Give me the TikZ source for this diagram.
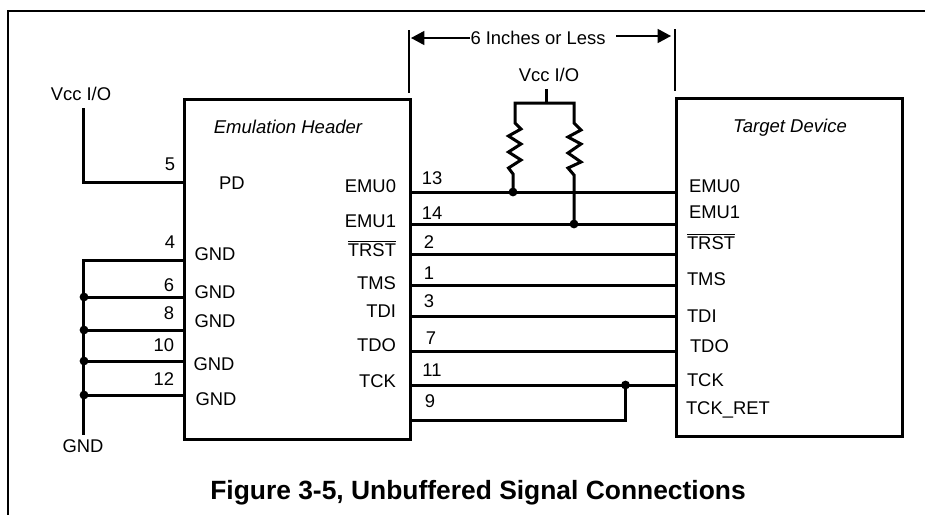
\documentclass[tikz,border=0pt]{standalone}
\usepackage{fontspec}
\setmainfont{Liberation Sans}
\tikzset{
  every node/.style={inner sep=0pt,outer sep=0pt},
  lab/.style={font=\fontsize{13.8}{15}\selectfont,anchor=mid,yshift=-2.2pt},
  labL/.style={lab,anchor=mid west},
  labR/.style={lab,anchor=mid east},
  ital/.style={lab,font=\fontsize{13.9}{15}\selectfont\itshape},
  titlelab/.style={font=\fontsize{19.8}{22}\selectfont\bfseries,anchor=mid,yshift=-2pt},
  wire/.style={line width=2.25pt},
  frameline/.style={line width=1.6pt},
  dimline/.style={line width=1.1pt},
  dimarrow/.style={line width=1.1pt,-{Triangle[length=10pt,width=10.5pt]}},
  junct/.style={circle,fill=black,minimum size=6.6pt},
  device/.style={draw,line width=2.25pt,rectangle,anchor=north west}
}
\usetikzlibrary{arrows.meta}
\begin{document}
\begin{tikzpicture}[x=0.75pt,y=-0.75pt]
\useasboundingbox (0,0) rectangle (925,515);
% frame
\coordinate (f1) at (925,11); \coordinate (f2) at (8,11); \coordinate (f3) at (8,515);
\draw[frameline] (f1) -- (f2) -- (f3);
% devices
\node[device,minimum width=169.5pt,minimum height=255pt] (hdr) at (184,99) {};
\node[device,minimum width=169.5pt,minimum height=254pt] (tgt) at (676,98) {};
% dimension
\coordinate (d1a) at (409,30); \coordinate (d1b) at (409,93);
\coordinate (d2a) at (675,29); \coordinate (d2b) at (675,91);
\draw[dimline] (d1a) -- (d1b);
\draw[dimline] (d2a) -- (d2b);
\node[lab] (dimtxt) at (538,38) {6 Inches or Less};
\coordinate (a1) at (470,38); \coordinate (a1e) at (411,38);
\coordinate (a2) at (616,36); \coordinate (a2e) at (671,36);
\draw[dimarrow] (a1) -- (a1e);
\draw[dimarrow] (a2) -- (a2e);
% signal wires
\foreach \n/\y/\num/\nx/\ny in {13/192/13/432/178,14/224/14/432/213,2/254/2/429/242,1/285/1/429/273,3/316/3/429/301,7/351/7/431/338,11/385/11/432/370}{
  \coordinate (wl\n) at (411,\y);
  \coordinate (wr\n) at (676,\y);
  \draw[wire] (wl\n) -- (wr\n);
  \node[lab] (num\n) at (\nx,\ny) {\num};
}
\coordinate (wl9) at (411,420); \coordinate (wr9) at (627,420);
\node[junct] (jck) at (625.5,385) {};
\draw[wire] (wl9) -- (wr9);
\draw[wire] (jck.center) -- (625.5,420);
\node[lab] (num9) at (430,401) {9};
% resistors
\node[lab] (vcc2) at (549,75) {Vcc I/O};
\coordinate (st1) at (546,89); \coordinate (st2) at (546,103);
\draw[wire] (st1) -- (st2);
\node[junct] (j13) at (513,192) {};
\node[junct] (j14) at (574,224) {};
\draw[wire,line join=miter] (j13.center) -- (513,174) -- (508.5,168) -- (521,160) -- (508.5,152) -- (521,144) -- (508.5,136) -- (521,129) -- (515,123) -- (515,103) -- (574,103) -- (574,123) -- (581,130) -- (568,137) -- (581,144) -- (568,153) -- (581,162) -- (568,168) -- (574,175) -- (j14.center);
% header labels
\node[ital] (hname) at (288,127) {Emulation Header};
\node[ital] (tname) at (790,126) {Target Device};
\foreach \t/\y in {EMU0/186,EMU1/221,$\overline{\mbox{TRST}}$/250,TMS/283,TDI/311,TDO/345,TCK/381}{
  \node[labR] at (396,\y) {\t};
}
\node[lab] (pd) at (232,183) {PD};
% power
\node[lab] (vcc1) at (81,94) {Vcc I/O};
\coordinate (v1) at (83,108); \coordinate (v2) at (83,182); \coordinate (v3) at (184,182);
\draw[wire] (v1) -- (v2) -- (v3);
\node[labR] (n5) at (175,164) {5};
% ground
\coordinate (g0) at (184,260); \coordinate (gc) at (83,260); \coordinate (gb) at (83,435);
\draw[wire] (g0) -- (gc) -- (gb);
\foreach \n/\y in {6/297,8/330,10/361,12/395}{
  \coordinate (g\n) at (184,\y);
  \node[junct] (gj\n) at (84,\y) {};
  \draw[wire] (gj\n.center) -- (g\n);
}
\foreach \t/\x/\y in {4/175/242,6/174/285,8/174/313,10/174/345,12/174/379}{
  \node[labR] at (\x,\y) {\t};
}
\foreach \x/\y in {215/254,215/292,215/321,214/364,216/399}{
  \node[lab] at (\x,\y) {GND};
}
\node[lab] (gndb) at (83,446) {GND};
% target labels
\foreach \t/\x/\y in {EMU0/689/186,EMU1/689/212,$\overline{\mbox{TRST}}$/687/243,TMS/687/279,TDI/687/316,TDO/690/346,TCK/687/380,TCK\_RET/686/408}{
  \node[labL] at (\x,\y) {\t};
}
\node[titlelab] (title) at (478,493) {Figure 3-5, Unbuffered Signal Connections};
\end{tikzpicture}
\end{document}
